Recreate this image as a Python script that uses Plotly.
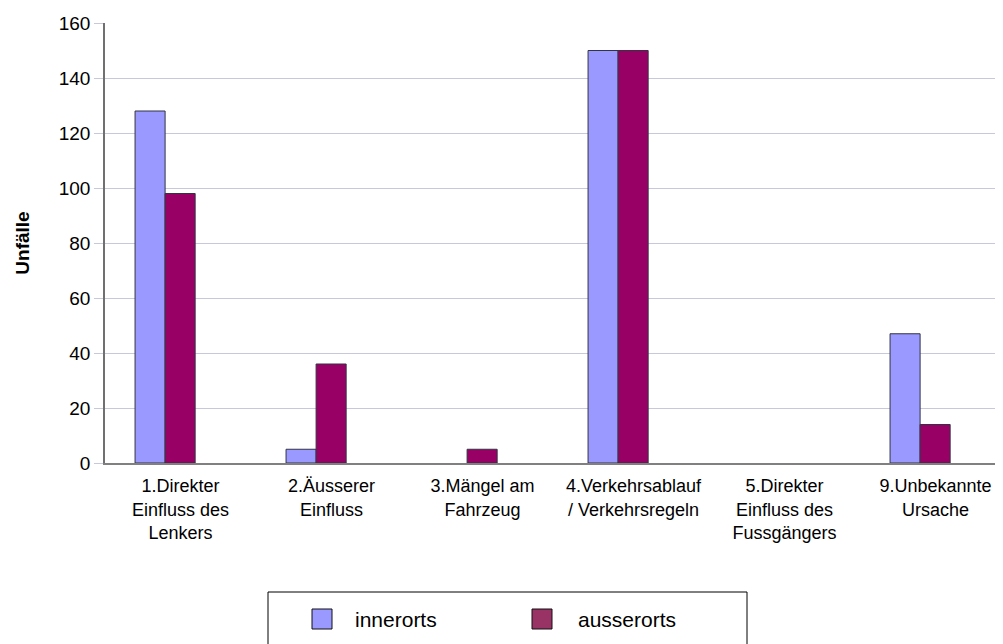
import plotly.graph_objects as go

categories = [
    "1.Direkter<br>Einfluss des<br>Lenkers",
    "2.Äusserer<br>Einfluss",
    "3.Mängel am<br>Fahrzeug",
    "4.Verkehrsablauf<br>/ Verkehrsregeln",
    "5.Direkter<br>Einfluss des<br>Fussgängers",
    "9.Unbekannte<br>Ursache",
]
innerorts = [128, 5, 0, 150, 0, 47]
ausserorts = [98, 36, 5, 150, 0, 14]
y_ticks = [0, 20, 40, 60, 80, 100, 120, 140, 160]
series_names = ["innerorts", "ausserorts"]
bar_colors = ["#9999FF", "#990066"]
legend_colors = ["#9999FF", "#993366"]

FONT = "Liberation Sans, Arial, sans-serif"

# bar geometry (category units): bars sit left of the category centre
BAR_W = 0.199
BAR_OFFSETS = [-0.301, -0.102]


def hide_zero(vals):
    return [v if v else None for v in vals]


fig = go.Figure()
for name, vals, col, off in zip(series_names, [innerorts, ausserorts], bar_colors, BAR_OFFSETS):
    fig.add_trace(go.Bar(name=name, x=categories, y=hide_zero(vals), showlegend=False,
                         width=BAR_W, offset=off,
                         marker=dict(color=col, line=dict(color="#333344", width=1))))

# page body has an 8px margin; compensate in figure margins
L, T, R, B = 97, 15, 0, 189
PW, PH = 1003 - L - R, 644 - T - B


def px_x(sx):
    return (sx - 8 - L) / PW


def px_y(sy):
    return (644 - B - (sy - 8)) / PH


shapes = [dict(type="rect", xref="paper", yref="paper",
               x0=px_x(268), x1=px_x(747), y0=px_y(592), y1=px_y(720),
               line=dict(color="black", width=1), fillcolor="rgba(0,0,0,0)")]
annotations = []
legend_swatch_x = [312, 532]
legend_text_x = [353, 576]
for name, col, sx, tx in zip(series_names, legend_colors, legend_swatch_x, legend_text_x):
    shapes.append(dict(type="rect", xref="paper", yref="paper",
                       x0=px_x(sx), x1=px_x(sx + 20), y0=px_y(609), y1=px_y(629),
                       line=dict(color="#111111", width=1), fillcolor=col))
    annotations.append(dict(text=name, xref="paper", yref="paper", x=px_x(tx), y=px_y(619),
                            xanchor="left", yanchor="middle", showarrow=False,
                            font=dict(size=21, family=FONT, color="black")))

fig.update_layout(
    width=1003, height=644,
    margin=dict(l=L, r=R, t=T, b=B),
    paper_bgcolor="white", plot_bgcolor="white",
    barmode="group",
    font=dict(family=FONT, color="black"),
    showlegend=False,
    shapes=shapes,
    annotations=annotations,
)
fig.update_xaxes(showline=True, linecolor="#808080", linewidth=1.5,
                 tickfont=dict(size=18, family=FONT), ticks="", showgrid=False,
                 ticklabelstandoff=6, range=[-0.5, 5.5])
fig.update_yaxes(range=[0, 160], tickvals=y_ticks, showline=True, linecolor="#707070", linewidth=1.5,
                 gridcolor="#C8C8DC", gridwidth=1, tickfont=dict(size=19, family=FONT),
                 ticks="outside", ticklen=9, tickcolor="#C8C8DC",
                 title=dict(text="<b>Unfälle</b>", font=dict(size=19, family=FONT), standoff=24),
                 zeroline=False)

fig.write_html("out.html")
